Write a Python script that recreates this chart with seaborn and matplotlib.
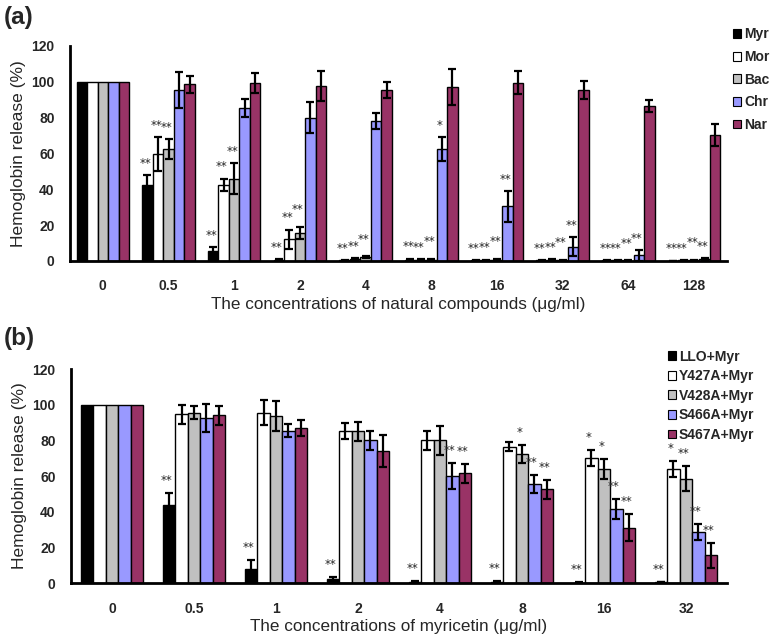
import matplotlib
matplotlib.use("Agg")
import matplotlib.pyplot as plt
import numpy as np
import pandas as pd
import seaborn as sns
from matplotlib.patches import Patch

# ---- panel (a): natural compounds ----
conc_a = ["0", "0.5", "1", "2", "4", "8", "16", "32", "64", "128"]
compounds = ["Myr", "Mor", "Bac", "Chr", "Nar"]
myr = [100, 42.5, 5.5, 0.8, 0.4, 0.8, 0.3, 0.3, 0.3, 0.1]
myr_err = [0, 5.5, 2.2, 0.3, 0.2, 0.5, 0.2, 0.2, 0.2, 0.1]
mor = [100, 59.5, 42.5, 12, 1.2, 0.8, 0.5, 0.8, 0.3, 0.3]
mor_err = [0, 9.5, 3.5, 5.5, 0.5, 0.4, 0.3, 0.3, 0.2, 0.2]
bac = [100, 62.5, 46, 15.5, 2, 0.8, 0.8, 0.5, 0.2, 0.4]
bac_err = [0, 5.5, 8.5, 3.5, 0.6, 0.4, 0.4, 0.3, 0.2, 0.2]
chr_ = [100, 95.5, 85.5, 80, 78, 62.5, 30.5, 8, 3.2, 1.2]
chr_err = [0, 10, 5, 8.5, 4.5, 6.5, 8.5, 5.5, 3, 0.5]
nar = [100, 98.5, 99.5, 97.5, 95.5, 97, 99.5, 95.5, 86.5, 70.5]
nar_err = [0, 4.5, 5.5, 8.5, 4.5, 10, 6.5, 5.2, 3.5, 6.2]
myr_sig = ["", "**", "**", "**", "**", "**", "**", "**", "**", "**"]
mor_sig = ["", "**", "**", "**", "**", "**", "**", "**", "**", "**"]
bac_sig = ["", "**", "**", "**", "**", "**", "**", "**", "**", "**"]
chr_sig = ["", "", "", "", "", "*", "**", "**", "**", "**"]
nar_sig = [""] * 10

# ---- panel (b): LLO mutants + myricetin ----
conc_b = ["0", "0.5", "1", "2", "4", "8", "16", "32"]
mutants = ["LLO+Myr", "Y427A+Myr", "V428A+Myr", "S466A+Myr", "S467A+Myr"]
llo = [100, 43.5, 8, 2.5, 0.8, 0.6, 0.2, 0.5]
llo_err = [0, 7, 5, 0.6, 0.3, 0.3, 0.1, 0.2]
y427 = [100, 94.5, 95.5, 85, 80, 76.5, 70, 64]
y427_err = [0, 5.5, 7, 4.5, 5.5, 2.5, 4.5, 4.5]
v428 = [100, 95.5, 93.5, 85, 80, 72.5, 64, 58.5]
v428_err = [0, 3.5, 8.5, 5.5, 8, 5, 5.5, 7]
s466 = [100, 92.5, 85.5, 80, 60, 55.5, 41.5, 28.5]
s466_err = [0, 8, 3.5, 5.5, 7.5, 5, 5.5, 4.5]
s467 = [100, 94, 87, 74, 61.5, 52.5, 31, 15.5]
s467_err = [0, 5.5, 4.5, 9, 5.5, 5.5, 7.5, 7]
llo_sig = ["", "**", "**", "**", "**", "**", "**", "**"]
y427_sig = ["", "", "", "", "", "", "*", "*"]
v428_sig = ["", "", "", "", "", "*", "*", "**"]
s466_sig = ["", "", "", "", "**", "**", "**", "**"]
s467_sig = ["", "", "", "", "**", "**", "**", "**"]

colors = ["#000000", "#FFFFFF", "#C0C0C0", "#9999FF", "#993366"]

sns.set_style("white")
plt.rcParams["font.family"] = ["Liberation Sans", "DejaVu Sans"]


def long_df(conc, names, series):
    rows = []
    for name, vals in zip(names, series):
        for c, v in zip(conc, vals):
            rows.append({"conc": c, "series": name, "value": v})
    return pd.DataFrame(rows)


def draw_panel(ax, conc, names, series, errs, sigs, width, tick_pad, star_gap, bump):
    df = long_df(conc, names, series)
    sns.barplot(
        data=df, x="conc", y="value", hue="series",
        order=conc, hue_order=names,
        palette=colors, width=width, errorbar=None,
        edgecolor="black", linewidth=1.0, saturation=1,
        ax=ax
    )
    if ax.legend_ is not None:
        ax.legend_.remove()
    bar_groups = list(ax.containers)
    for i, cont in enumerate(bar_groups):
        for bar, e, s in zip(cont, errs[i], sigs[i]):
            xc = bar.get_x() + bar.get_width() / 2
            top = bar.get_height()
            if e > 0:
                ax.errorbar(xc, top, yerr=e, color="black", elinewidth=1.6,
                            capsize=2.8, capthick=1.6)
            if s:
                extra = bump if (i == 2 and top < 20) else 0
                ax.text(xc - 0.03, top + e + star_gap + extra, s, ha="center",
                        va="center", fontsize=8.5, color="#262626",
                        family="DejaVu Sans")
    n = len(conc)
    ax.set_xlim(-0.5, n - 0.5)
    ax.set_ylim(0, 120)
    ax.set_yticks(range(0, 121, 20))
    ax.set_xticks(np.arange(0.5, n), minor=True)
    ax.tick_params(axis="x", which="major", length=0, pad=tick_pad)
    ax.tick_params(axis="x", which="minor", direction="in", length=4, width=1.5)
    ax.tick_params(axis="y", direction="in", length=4, width=1.5, pad=11)
    for lab in ax.get_xticklabels() + ax.get_yticklabels():
        lab.set_fontweight("bold")
        lab.set_fontsize(10)
    sns.despine(ax=ax)
    for sp in ["left", "bottom"]:
        ax.spines[sp].set_linewidth(2)
        ax.spines[sp].set_color("black")
    ax.set_ylabel("Hemoglobin release (%)", fontsize=12.5, labelpad=4)


fig = plt.figure(figsize=(7.74, 6.38), dpi=100)

ax1 = fig.add_axes([0.0904, 0.591, 0.8488, 0.337])
draw_panel(ax1, conc_a, compounds,
           [myr, mor, bac, chr_, nar],
           [myr_err, mor_err, bac_err, chr_err, nar_err],
           [myr_sig, mor_sig, bac_sig, chr_sig, nar_sig],
           width=0.8, tick_pad=13, star_gap=6.5, bump=3)
ax1.set_xlabel("The concentrations of natural compounds (\u03bcg/ml)", fontsize=12.3, labelpad=3)

ax2 = fig.add_axes([0.0917, 0.0862, 0.8475, 0.3354])
draw_panel(ax2, conc_b, mutants,
           [llo, y427, v428, s466, s467],
           [llo_err, y427_err, v428_err, s466_err, s467_err],
           [llo_sig, y427_sig, v428_sig, s466_sig, s467_sig],
           width=0.76, tick_pad=14, star_gap=7, bump=0)
ax2.set_xlabel("The concentrations of myricetin (\u03bcg/ml)", fontsize=12.3, labelpad=2)

handles_a = [Patch(facecolor=c, edgecolor="black", linewidth=0.8) for c in colors]
ax1.legend(handles_a, compounds, loc="upper left", bbox_to_anchor=(0.947, 0.957),
           bbox_transform=fig.transFigure, frameon=False, borderpad=0, borderaxespad=0,
           handlelength=0.6, handleheight=0.6, handletextpad=0.2, labelspacing=0.62,
           prop={"weight": "bold", "size": 10})
handles_b = [Patch(facecolor=c, edgecolor="black", linewidth=0.8) for c in colors]
ax2.legend(handles_b, mutants, loc="upper left", bbox_to_anchor=(0.863, 0.452),
           bbox_transform=fig.transFigure, frameon=False, borderpad=0, borderaxespad=0,
           handlelength=0.6, handleheight=0.6, handletextpad=0.2, labelspacing=0.4,
           prop={"weight": "bold", "size": 10})

fig.text(0.005, 0.973, "(a)", fontsize=17.5, fontweight="bold", va="center")
fig.text(0.005, 0.470, "(b)", fontsize=17.5, fontweight="bold", va="center")

fig.savefig("out.png", dpi=100)
